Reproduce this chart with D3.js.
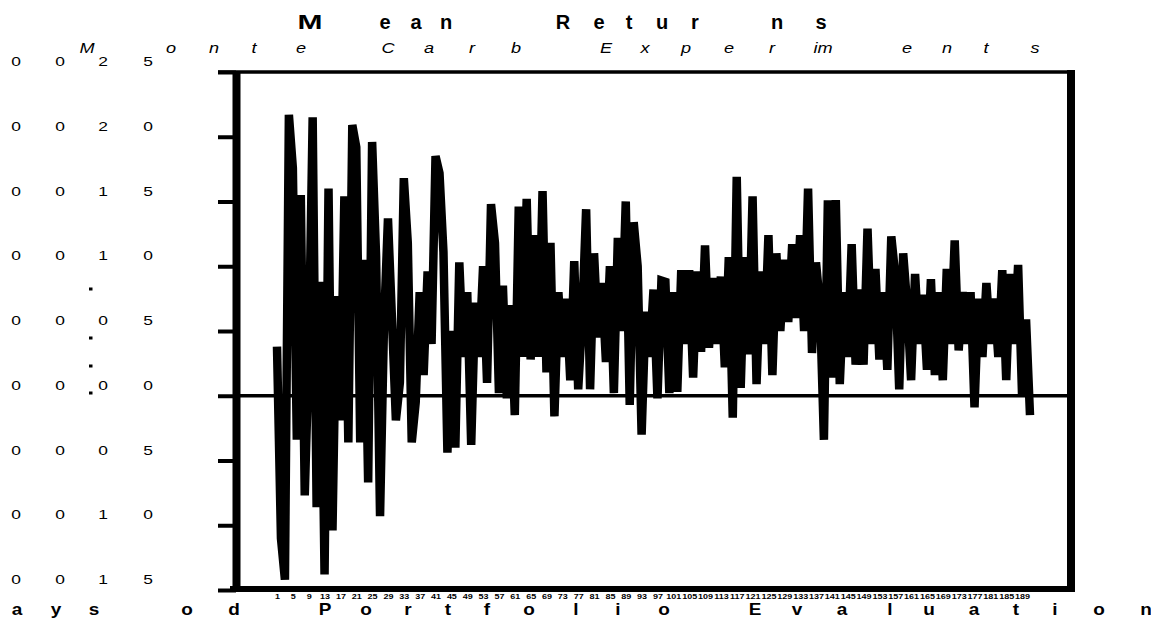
<!DOCTYPE html>
<html>
<head>
<meta charset="utf-8">
<script src="https://cdn.jsdelivr.net/npm/d3@7"></script>
<style>
  html, body { margin: 0; padding: 0; background: #fff; }
  svg { display: block; font-family: "Liberation Sans", Arial, sans-serif; }
</style>
</head>
<body>
<svg id="chart" width="1151" height="626"></svg>
<script>
// Daily mean return across the Monte Carlo runs, one value per evaluation day
const meanReturns = [
  0.0038, -0.0110, -0.0142, 0.0217, 0.0176, -0.0034, 0.0155, -0.0077, 0.0030, 0.0215,
  -0.0086, 0.0088, -0.0138, 0.0160, -0.0104, 0.0077, -0.0019, 0.0154, -0.0036, 0.0209,
  0.0192, -0.0036, 0.0105, -0.0067, 0.0196, 0.0108, -0.0093, 0.0055, 0.0137, 0.0060,
  -0.0019, 0.0010, 0.0168, 0.0118, -0.0036, -0.0005, 0.0080, 0.0016, 0.0096, 0.0040,
  0.0185, 0.0172, 0.0111, -0.0044, 0.0050, -0.0040, 0.0103, 0.0030, 0.0080, -0.0038,
  0.0072, 0.0030, 0.0100, 0.0010, 0.0148, 0.0118, 0.0002, 0.0085, -0.0002, 0.0070,
  -0.0015, 0.0146, 0.0030, 0.0152, 0.0028, 0.0124, 0.0030, 0.0158, 0.0018, 0.0118,
  -0.0016, 0.0080, 0.0030, 0.0075, 0.0012, 0.0104, 0.0005, 0.0060, 0.0144, 0.0005,
  0.0110, 0.0045, 0.0087, 0.0026, 0.0100, 0.0002, 0.0122, 0.0050, 0.0150, -0.0007,
  0.0134, 0.0100, -0.0030, 0.0065, 0.0030, 0.0082, -0.0002, 0.0089, 0.0088, 0.0002,
  0.0080, 0.0003, 0.0097, 0.0040, 0.0097, 0.0014, 0.0096, 0.0034, 0.0116, 0.0037,
  0.0091, 0.0040, 0.0092, 0.0022, 0.0107, -0.0017, 0.0169, 0.0006, 0.0107, 0.0032,
  0.0154, 0.0009, 0.0096, 0.0040, 0.0124, 0.0016, 0.0110, 0.0050, 0.0105, 0.0057,
  0.0117, 0.0060, 0.0124, 0.0050, 0.0160, 0.0033, 0.0103, 0.0070, -0.0034, 0.0151,
  0.0014, 0.0151, 0.0009, 0.0080, 0.0030, 0.0117, 0.0024, 0.0082, 0.0024, 0.0129,
  0.0040, 0.0098, 0.0028, 0.0080, 0.0020, 0.0123, 0.0093, 0.0005, 0.0110, 0.0070,
  0.0012, 0.0094, 0.0040, 0.0078, 0.0020, 0.0090, 0.0016, 0.0080, 0.0012, 0.0098,
  0.0040, 0.0120, 0.0035, 0.0080, 0.0040, 0.0080, -0.0009, 0.0075, 0.0030, 0.0087,
  0.0040, 0.0075, 0.0030, 0.0097, 0.0012, 0.0094, 0.0040, 0.0101, 0.0000, 0.0059,
  -0.0015
];

// Y axis tick values
const yTickValues = [0.025, 0.020, 0.015, 0.010, 0.005, 0.000, -0.005, -0.010, -0.015];

// Day-number labels along the bottom axis
const xTickDays = d3.range(0, meanReturns.length, 4);

// Titles, set glyph by glyph
const titleGlyphs = ["M", "e", "a", "n", "R", "e", "t", "u", "r", "n", "s"];
const subtitleGlyphs = ["M", "o", "n", "t", "e", "C", "a", "r", "b", "E", "x", "p", "e", "r", "im", "e", "n", "t", "s"];
const xTitleGlyphs = ["a", "y", "s", "o", "d", "P", "o", "r", "t", "f", "o", "l", "i", "o",
                      "E", "v", "a", "l", "u", "a", "t", "i", "o", "n"];

// ---- layout ----
const titleX = [310, 385, 416, 446, 563, 599, 629, 662, 695, 777, 821];
const subtitleX = [87, 171, 214, 254, 301, 388, 429, 472, 516, 606, 645, 686, 729, 772, 823, 907, 947, 986, 1035];
const xTitleX = [17, 56, 94, 187, 234, 325, 366, 408, 448, 487, 529, 576, 618, 664,
                 755, 797, 842, 890, 929, 974, 1016, 1055, 1099, 1146];
const yLabelCharX = [16, 60, 103, 148];

const frame = { left: 236, right: 1071, top: 72, bottom: 590 };

const svg = d3.select("#chart");

const x = d3.scaleLinear()
  .domain([0, meanReturns.length - 1])
  .range([277, 1030]);

const y = d3.scaleLinear()
  .domain([-0.015, 0.025])
  .range([frame.bottom, frame.top]);

// zero reference line
svg.append("line")
  .attr("x1", frame.left).attr("x2", frame.right)
  .attr("y1", y(0)).attr("y2", y(0))
  .attr("stroke", "#000").attr("stroke-width", 3.5);

// the return series, drawn with a heavy pen
const line = d3.line()
  .x((d, i) => x(i))
  .y(d => y(d));

svg.append("path")
  .datum(meanReturns)
  .attr("d", line)
  .attr("fill", "none")
  .attr("stroke", "#000")
  .attr("stroke-width", 8.5)
  .attr("stroke-linejoin", "miter")
  .attr("stroke-miterlimit", 4);

// top border (extends left like a tick)
svg.append("line")
  .attr("x1", frame.left - 18).attr("x2", frame.right + 4)
  .attr("y1", frame.top).attr("y2", frame.top)
  .attr("stroke", "#000").attr("stroke-width", 3.5);

// right border
svg.append("line")
  .attr("x1", frame.right).attr("x2", frame.right)
  .attr("y1", frame.top - 2).attr("y2", frame.bottom + 2)
  .attr("stroke", "#000").attr("stroke-width", 8);

// bottom axis line
svg.append("line")
  .attr("x1", frame.left - 6).attr("x2", frame.right + 4)
  .attr("y1", frame.bottom - 1).attr("y2", frame.bottom - 1)
  .attr("stroke", "#000").attr("stroke-width", 6);

// left axis with outward ticks
const yAxis = d3.axisLeft(y)
  .tickValues(yTickValues)
  .tickSize(18)
  .tickSizeOuter(0)
  .tickFormat("");

const gy = svg.append("g")
  .attr("transform", `translate(${frame.left},0)`)
  .call(yAxis);
gy.select(".domain").attr("stroke", "#000").attr("stroke-width", 8);
gy.selectAll(".tick line").attr("stroke", "#000").attr("stroke-width", 4);

// glyph placed at (gx, gy), stretched horizontally by sx
function glyph(parent, c, gx, gyPos, sx) {
  return parent.append("text")
    .attr("transform", `translate(${gx},${gyPos}) scale(${sx},1)`)
    .text(c);
}

// y tick labels: digits spread across the left margin
const yLabels = svg.append("g")
  .attr("font-size", 12)
  .attr("fill", "#000")
  .attr("text-anchor", "middle");

yTickValues.forEach(v => {
  const chars = Math.abs(v).toFixed(3).replace(".", "").split("");
  chars.forEach((c, k) => glyph(yLabels, c, yLabelCharX[k], y(v) - 6, 1.45));
});

// small sign marks beside the lower labels
const signMarkY = [289, 338, 366, 393];
svg.append("g")
  .selectAll("rect")
  .data(signMarkY)
  .join("rect")
  .attr("x", 89).attr("y", d => d - 1.5)
  .attr("width", 3.5).attr("height", 3)
  .attr("fill", "#000");

// bottom day labels, squeezed into a dense strip under the axis line
const xAxis = d3.axisBottom(x)
  .tickValues(xTickDays)
  .tickSize(0)
  .tickSizeOuter(0)
  .tickFormat(d => d + 1);

const gx = svg.append("g")
  .attr("transform", `translate(0,${frame.bottom})`)
  .call(xAxis);
gx.select(".domain").remove();
gx.selectAll(".tick text")
  .attr("y", 0).attr("dy", 0)
  .attr("font-size", 9)
  .attr("font-weight", "bold")
  .attr("font-family", "'Liberation Sans', Arial, sans-serif")
  .attr("fill", "#000")
  .attr("transform", "translate(0,8.5) scale(1.0,0.72)");

// glyph-by-glyph text helper
function spacedText(glyphs, xs, baseline, opts) {
  const g = svg.append("g")
    .attr("text-anchor", "middle")
    .attr("font-size", opts.size)
    .attr("font-weight", opts.weight || "normal")
    .attr("font-style", opts.style || "normal")
    .attr("fill", "#000");
  glyphs.forEach((c, i) => {
    const sx = (opts.stretchFirst && i === 0) ? opts.stretchFirst : (opts.stretch || 1);
    glyph(g, c, xs[i], baseline, sx);
  });
}

spacedText(titleGlyphs, titleX, 29, { size: 20, weight: "bold", stretchFirst: 1.5 });
spacedText(subtitleGlyphs, subtitleX, 53, { size: 14.5, style: "italic", stretch: 1.25 });
spacedText(xTitleGlyphs, xTitleX, 615, { size: 16.5, weight: "bold", stretch: 1.15 });
</script>
</body>
</html>
